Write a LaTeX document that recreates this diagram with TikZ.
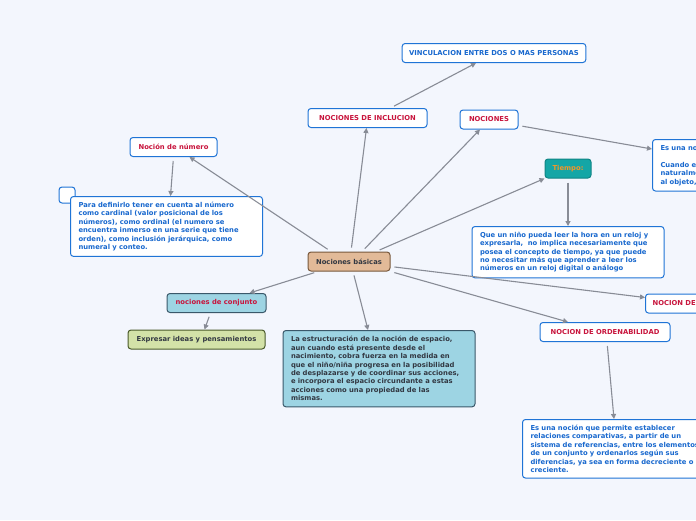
\documentclass[tikz,border=0pt]{standalone}
\usepackage{fontspec}
\setmainfont{DejaVu Sans}
\usetikzlibrary{arrows.meta,positioning}
\definecolor{PageTint}{RGB}{243,246,253}
\definecolor{EdgeBlue}{RGB}{31,116,214}
\definecolor{TextBlue}{RGB}{24,104,206}
\definecolor{TitleRed}{RGB}{200,20,60}
\definecolor{LinkGray}{RGB}{136,140,150}
\definecolor{TealFill}{RGB}{20,166,166}
\definecolor{TimeOrange}{RGB}{245,150,40}
\definecolor{TanFill}{RGB}{226,186,152}
\definecolor{TanEdge}{RGB}{120,88,60}
\definecolor{SkyFill}{RGB}{157,212,227}
\definecolor{SkyEdge}{RGB}{58,88,106}
\definecolor{SageFill}{RGB}{211,226,168}
\definecolor{SageEdge}{RGB}{74,90,42}
\definecolor{InkDark}{RGB}{50,56,66}
\tikzset{
  mbox/.style={
    draw=EdgeBlue,
    fill=white,
    rounded corners=3pt,
    line width=1pt,
    minimum height=19pt,
    inner xsep=7pt,
    inner ysep=3pt,
    font=\fontsize{6.8}{8.4}\selectfont\bfseries
  },
  titlebox/.style={mbox,text=TitleRed},
  notebox/.style={mbox,text=TextBlue,align=left,inner xsep=8pt,inner ysep=5.5pt},
  darkbox/.style={mbox,text=InkDark},
  link/.style={-{Triangle[length=5pt,width=5pt]},line width=1.1pt,draw=LinkGray,shorten <=4pt}
}
\begin{document}
\begin{tikzpicture}[x=1pt,y=-1pt]
  \useasboundingbox (0,0) rectangle (696,520);
  \fill[PageTint] (0,0) rectangle (696,520);
  \clip (0,0) rectangle (696,520);

  % central topic
  \node[darkbox, fill=TanFill, draw=TanEdge, minimum width=82pt] (basic) at (349,261.5) {Nociones básicas};

  % upper branches
  \node[titlebox, minimum width=119pt] (inclu) at (367.5,118) {NOCIONES DE INCLUCION};
  \node[mbox, text=TextBlue, minimum width=180pt] (vincu) at (494,53) {VINCULACION ENTRE DOS O MAS PERSONAS};
  \node[titlebox, minimum width=58pt] (noc) at (489,119.5) {NOCIONES};
  \node[notebox, anchor=north west, text width=120pt] (esuna) at (652,139) {Es una noción\\[8.4pt]Cuando el niño\\naturalmente\\al objeto,};
  \node[titlebox, minimum width=87pt] (num) at (173.5,147) {Noción de número};
  \node[mbox, minimum width=16pt, minimum height=16pt, inner sep=0pt] (blank) at (67,195) {};
  \node[notebox, anchor=north west, text width=176pt] (numtxt) at (70,196) {Para definirlo tener en cuenta al número\\como cardinal (valor posicional de los\\números), como ordinal (el numero se\\encuentra inmerso en una serie que tiene\\orden), como inclusión jerárquica, como\\numeral y conteo.};

  % tiempo
  \node[mbox, fill=TealFill, draw=TealFill!80!black, text=TimeOrange, minimum width=46pt] (time) at (568,168.5) {Tiempo:};
  \node[notebox, anchor=north, text width=176pt] (timetxt) at (568,226) {Que un niño pueda leer la hora en un reloj y\\expresarla,~ no implica necesariamente que\\posea el concepto de tiempo, ya que puede\\no necesitar más que aprender a leer los\\números en un reloj digital o análogo};

  % lower branches
  \node[titlebox, anchor=west, minimum width=120pt, align=left] (conser) at (645,303.5) {NOCION DE CONSERVACION};
  \node[titlebox, minimum width=130pt] (orden) at (605,332) {NOCION DE ORDENABILIDAD};
  \node[notebox, anchor=north west, text width=176pt] (ordtxt) at (522,419) {Es una noción que permite establecer\\relaciones comparativas, a partir de un\\sistema de referencias, entre los elementos\\de un conjunto y ordenarlos según sus\\diferencias, ya sea en forma decreciente o\\creciente.};
  \node[titlebox, fill=SkyFill, draw=SkyEdge, minimum width=99pt] (conj) at (216.5,303) {nociones de conjunto};
  \node[darkbox, fill=SageFill, draw=SageEdge, minimum width=137pt] (ideas) at (196.5,339.5) {Expresar ideas y pensamientos};
  \node[notebox, fill=SkyFill, draw=SkyEdge, text=InkDark, anchor=north, text width=176pt, inner ysep=6pt] (space) at (379,330) {La estructuración de la noción de espacio,\\aun cuando está presente desde el\\nacimiento, cobra fuerza en la medida en\\que el niño/niña progresa en la posibilidad\\de desplazarse y de coordinar sus acciones,\\e incorpora el espacio circundante a estas\\acciones como una propiedad de las\\mismas.};

  \draw[link] ([xshift=-18pt]basic.north) -- ([xshift=-28pt]num.south east);
  \draw[link] (num.south) -- ([xshift=4pt]numtxt.north);
  \draw[link] ([xshift=2pt]basic.north) -- ([xshift=-1pt]inclu.south);
  \draw[link] ([xshift=23pt]inclu.north) -- ([xshift=-18pt]vincu.south);
  \draw[link] ([xshift=13pt]basic.north) -- ([xshift=-9pt]noc.south);
  \draw[link] ([yshift=-6pt]noc.east) -- ([yshift=-10pt]esuna.north west);
  \draw[link] ([xshift=27pt]basic.north) -- (time.south west);
  \draw[link] (time.south) -- (timetxt.north);
  \draw[link] ([yshift=-5pt]basic.east) -- ([yshift=6pt]conser.west);
  \draw[link] (basic.south east) -- ([xshift=-37pt]orden.north);
  \draw[link] ([xshift=-31pt]basic.south) -- ([xshift=33pt]conj.north);
  \draw[link] ([xshift=-6pt]conj.south) -- ([xshift=8pt]ideas.north);
  \draw[link] ([xshift=4pt]basic.south) -- ([xshift=-11pt]space.north);
  \draw[link] ([xshift=2pt]orden.south) -- ([xshift=92pt]ordtxt.north west);
\end{tikzpicture}
\end{document}
